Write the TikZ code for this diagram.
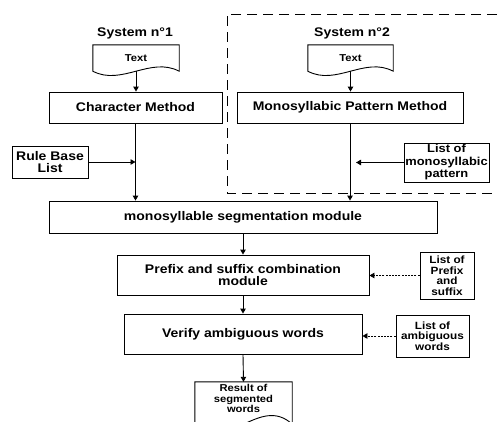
\documentclass[tikz,border=0pt]{standalone}
\usepackage{fontspec}
\setmainfont{Liberation Sans}[FakeStretch=1.12]
\usetikzlibrary{arrows.meta,calc}
\begin{document}
\begin{tikzpicture}[x=1pt,y=-1pt,
  box/.style={draw, line width=0.9pt, rectangle, align=center, inner sep=0pt,
    font=\bfseries\fontsize{12.5}{12}\selectfont},
  smallbox/.style={box, font=\bfseries\fontsize{10.5}{10.5}\selectfont},
  docnode/.style={rectangle, inner sep=0pt, align=center,
    font=\bfseries\fontsize{10}{10.5}\selectfont},
  title/.style={font=\bfseries\fontsize{12.5}{14}\selectfont, inner sep=0pt},
  outline/.style={line width=0.9pt},
  arr/.style={line width=0.9pt, -{Triangle[length=5pt,width=5.5pt]}},
  dotarr/.style={arr, dash pattern=on 2pt off 1.2pt},
  sysframe/.style={line width=0.9pt, dash pattern=on 10pt off 6pt}]
\useasboundingbox (0,0) rectangle (501,421);

% dashed frame of system 2
\draw[sysframe] (497,14) -- (227,14) -- (227,193) -- (497,193);

% titles
\node[title] (s1) at (135,33) {System n°1};
\node[title] (s2) at (352,33) {System n°2};

% document shapes
\node[docnode, minimum width=86pt, minimum height=26pt] (d1) at (136,58) {Text};
\node[docnode, minimum width=85pt, minimum height=26pt] (d2) at (350.5,58) {Text};
\foreach \n in {d1,d2}
  \draw[outline] (\n.north west) -- (\n.north east) -- (\n.south east)
    .. controls ($(\n.south east)!0.333!(\n.south west)+(0,-15)$)
           and ($(\n.south east)!0.667!(\n.south west)+(0,15)$) .. (\n.south west) -- cycle;
\node[docnode, minimum width=97pt, minimum height=42pt] (res) at (243.5,403) {};
\node[docnode] (restext) at (243.5,398.5) {Result of\\segmented\\words};
\draw[outline] (res.north west) -- (res.north east) -- (res.south east)
    .. controls ($(res.south east)!0.333!(res.south west)+(0,-30)$)
           and ($(res.south east)!0.667!(res.south west)+(0,30)$) .. (res.south west) -- cycle;

% boxes
\node[box, minimum width=173pt, minimum height=31pt] (cm) at (135.5,107.5) {Character Method};
\node[box, minimum width=226pt, minimum height=31pt] (mpm) at (350,107.5) {Monosyllabic Pattern Method};
\node[box, minimum width=76pt, minimum height=32pt] (rb) at (50,162) {Rule Base\\List};
\node[box, minimum width=85pt, minimum height=39pt, font=\bfseries\fontsize{11.5}{12.5}\selectfont] (lmp) at (446.5,162.5) {List of\\monosyllabic\\pattern};
\node[box, minimum width=388pt, minimum height=32pt] (seg) at (243,217) {monosyllable segmentation module};
\node[box, minimum width=252pt, minimum height=40pt] (pre) at (243,275) {Prefix and suffix combination\\module};
\node[smallbox, minimum width=54pt, minimum height=47pt] (lps) at (447,275.5) {List of\\Prefix\\and\\suffix};
\node[box, minimum width=238pt, minimum height=40pt] (ver) at (243,334) {Verify ambiguous words};
\node[smallbox, minimum width=73pt, minimum height=42pt] (law) at (432.5,336) {List of\\ambiguous\\words};

% connectors
\draw[arr] (d1.south) -- (d1.south |- cm.north);
\draw[arr] (cm.south) -- (cm.south |- seg.north);
\draw[arr] (rb.east) -- (rb.east -| cm.south);
\draw[arr] (d2.south) -- (d2.south |- mpm.north);
\draw[arr] (mpm.south) -- (mpm.south |- seg.north);
\coordinate (lmptip) at ($(lmp.west -| mpm.south)+(6,0)$);
\draw[arr] (lmp.west) -- (lmptip);
\draw[arr] (seg.south) -- (pre.north);
\draw[dotarr] (lps.west) -- (lps.west -| pre.east);
\draw[arr] (pre.south) -- (ver.north);
\draw[dotarr] (law.west) -- (law.west -| ver.east);
\draw[arr] (ver.south) -- (res.north);
\end{tikzpicture}
\end{document}
